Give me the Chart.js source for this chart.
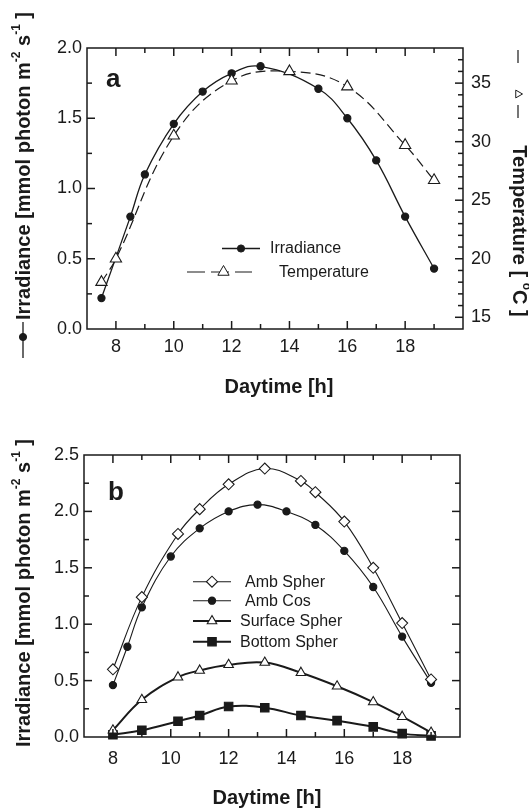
<!DOCTYPE html>
<html>
<head>
<meta charset="utf-8">
<script src="https://cdn.jsdelivr.net/npm/chart.js@4.4.1/dist/chart.umd.min.js"></script>
<style>
  html, body { margin: 0; padding: 0; background: #fff; }
  #wrap { position: relative; width: 529px; height: 810px; }
  canvas { position: absolute; left: 0; }
  #ca { top: 0; }
  #cb { top: 405px; }
</style>
</head>
<body>
<div id="wrap">
  <canvas id="ca" width="529" height="405"></canvas>
  <canvas id="cb" width="529" height="405"></canvas>
</div>
<script>
// panel a: irradiance and air temperature over the day
const irrHours = [7.5, 8.5, 9, 10, 11, 12, 13, 15, 16, 17, 18, 19];
const irrValues = [0.22, 0.80, 1.10, 1.46, 1.69, 1.82, 1.87, 1.71, 1.50, 1.20, 0.80, 0.43];
const tempHours = [7.5, 8, 10, 12, 14, 16, 18, 19];
const tempValues = [18.0, 20.0, 30.5, 35.2, 36.0, 34.7, 29.7, 26.7];

// panel b: four sensors
const ambSpherHours = [8, 9, 10.25, 11, 12, 13.25, 14.5, 15, 16, 17, 18, 19];
const ambSpherValues = [0.60, 1.24, 1.80, 2.02, 2.24, 2.38, 2.27, 2.17, 1.91, 1.50, 1.01, 0.51];
const ambCosHours = [8, 8.5, 9, 10, 11, 12, 13, 14, 15, 16, 17, 18, 19];
const ambCosValues = [0.46, 0.80, 1.15, 1.60, 1.85, 2.00, 2.06, 2.00, 1.88, 1.65, 1.33, 0.89, 0.48];
const spherHours = [8, 9, 10.25, 11, 12, 13.25, 14.5, 15.75, 17, 18, 19];
const surfaceValues = [0.06, 0.33, 0.53, 0.59, 0.64, 0.66, 0.57, 0.45, 0.31, 0.18, 0.04];
const bottomValues = [0.02, 0.06, 0.14, 0.19, 0.27, 0.26, 0.19, 0.145, 0.09, 0.03, 0.01];

// tick labels
const hourTicks = [8, 10, 12, 14, 16, 18];
const irrTicksA = [0, 0.5, 1, 1.5, 2];
const irrTicksB = [0, 0.5, 1, 1.5, 2, 2.5];
const tempTicks = [15, 20, 25, 30, 35];

const F = "'Liberation Sans', Arial, Helvetica, sans-serif";
const INK = '#1a1a1a';

function pts(xs, ys) {
  return xs.map(function (x, i) { return { x: x, y: ys[i] }; });
}
function has(list, v) {
  for (let i = 0; i < list.length; i++) if (Math.abs(list[i] - v) < 1e-6) return true;
  return false;
}

// axis titles with superscripts, centred on (x, y)
function drawRuns(ctx, runs, x, y, angle, size) {
  const big = 'bold ' + size + 'px ' + F;
  const small = 'bold ' + Math.round(size * 0.62) + 'px ' + F;
  ctx.save();
  ctx.translate(x, y);
  ctx.rotate(angle);
  ctx.fillStyle = INK;
  ctx.textBaseline = 'middle';
  ctx.textAlign = 'left';
  let w = 0;
  runs.forEach(function (r) { ctx.font = r[1] ? small : big; w += ctx.measureText(r[0]).width; });
  let cx = -w / 2;
  runs.forEach(function (r) {
    ctx.font = r[1] ? small : big;
    ctx.fillText(r[0], cx, r[1] ? -size * 0.36 : 0);
    cx += ctx.measureText(r[0]).width;
  });
  ctx.restore();
}

function marker(ctx, style, r, x, y, fill, lw, rot) {
  ctx.save();
  ctx.fillStyle = fill;
  ctx.strokeStyle = INK;
  ctx.lineWidth = lw || 1;
  Chart.helpers.drawPoint(ctx, { pointStyle: style, radius: r, rotation: rot || 0, borderWidth: lw || 1 }, x, y);
  ctx.restore();
}

function seg(ctx, x1, y1, x2, y2, lw, dash) {
  ctx.save();
  ctx.strokeStyle = INK;
  ctx.lineWidth = lw;
  ctx.setLineDash(dash || []);
  ctx.beginPath();
  ctx.moveTo(x1, y1);
  ctx.lineTo(x2, y2);
  ctx.stroke();
  ctx.restore();
}

// box round the plot and inward tick marks (every step, long on labelled values)
function drawFrame(chart, marks) {
  const ctx = chart.ctx, a = chart.chartArea;
  ctx.save();
  ctx.strokeStyle = INK;
  ctx.lineWidth = 1.5;
  ctx.setLineDash([]);
  ctx.strokeRect(a.left, a.top, a.right - a.left, a.bottom - a.top);
  marks.forEach(function (m) {
    const sc = chart.scales[m.scale];
    const n = Math.round((sc.max - sc.min) / m.step);
    for (let i = 1; i < n; i++) {
      const v = sc.min + i * m.step;
      const len = has(m.major, v) ? 8 : 5;
      const p = sc.getPixelForValue(v);
      ctx.beginPath();
      if (m.side === 'bottom') { ctx.moveTo(p, a.bottom); ctx.lineTo(p, a.bottom - len); }
      else if (m.side === 'top') { ctx.moveTo(p, a.top); ctx.lineTo(p, a.top + len); }
      else if (m.side === 'left') { ctx.moveTo(a.left, p); ctx.lineTo(a.left + len, p); }
      else { ctx.moveTo(a.right, p); ctx.lineTo(a.right - len, p); }
      ctx.stroke();
    }
  });
  ctx.restore();
}

function framePlugin(marks, extras) {
  return {
    id: 'frame',
    afterDraw(chart) {
      drawFrame(chart, marks);
      extras(chart.ctx);
    }
  };
}

function xScale(height, pad) {
  return {
    type: 'linear', min: 7, max: 20,
    grid: { display: false, drawTicks: false },
    border: { display: false },
    ticks: {
      stepSize: 1, autoSkip: false, maxRotation: 0, padding: pad, color: INK,
      font: { family: F, size: 18 },
      callback: function (v) { return has(hourTicks, v) ? String(v) : ''; }
    },
    afterFit: function (s) { s.height = height; }
  };
}

function irrScale(max, labels, width) {
  return {
    type: 'linear', position: 'left', min: 0, max: max,
    grid: { display: false, drawTicks: false },
    border: { display: false },
    ticks: {
      stepSize: 0.25, autoSkip: false, padding: 5, color: INK,
      font: { family: F, size: 18 },
      callback: function (v) { return has(labels, v) ? v.toFixed(1) : ''; }
    },
    afterFit: function (s) { s.width = width; }
  };
}

function line(label, data, style, radius, fill, width, extra) {
  return Object.assign({
    label: label, data: data,
    borderColor: INK, borderWidth: width, tension: 0.4, fill: false, clip: false,
    pointStyle: style, pointRadius: radius, pointBackgroundColor: fill,
    pointBorderColor: INK, pointBorderWidth: 1.1
  }, extra || {});
}

const marksA = [
  { scale: 'x', side: 'bottom', step: 1, major: hourTicks },
  { scale: 'x', side: 'top', step: 1, major: hourTicks },
  { scale: 'y', side: 'left', step: 0.25, major: irrTicksA },
  { scale: 'y2', side: 'right', step: 1, major: tempTicks }
];

function extrasA(ctx) {
  ctx.save();
  ctx.fillStyle = INK;
  ctx.font = 'bold 26px ' + F;
  ctx.textBaseline = 'middle';
  ctx.fillText('a', 106, 80);
  ctx.font = '16px ' + F;
  seg(ctx, 222, 248.5, 260, 248.5, 1.3);
  marker(ctx, 'circle', 3.6, 241, 248.5, INK);
  ctx.fillStyle = INK;
  ctx.fillText('Irradiance', 270, 249);
  seg(ctx, 187, 272, 252, 272, 1.2, [18, 6]);
  marker(ctx, 'triangle', 6.5, 223.5, 272, '#fff');
  ctx.fillStyle = INK;
  ctx.fillText('Temperature', 279, 273);
  ctx.restore();
  drawRuns(ctx, [['Irradiance [mmol photon m'], ['-2', 1], [' s'], ['-1', 1], [' ]']], 24, 166, -Math.PI / 2, 20);
  drawRuns(ctx, [['Temperature [ '], ['o', 1], ['C ]']], 519, 231, Math.PI / 2, 20);
  drawRuns(ctx, [['Daytime [h]']], 279, 387, 0, 20);
  seg(ctx, 23, 322, 23, 358, 1.3);
  marker(ctx, 'circle', 3.6, 23, 337, INK);
  seg(ctx, 518, 50, 518, 63, 1.2);
  marker(ctx, 'triangle', 4.5, 518, 94, '#fff', 1, 90);
  seg(ctx, 518, 105, 518, 118, 1.2);
}

const marksB = [
  { scale: 'x', side: 'bottom', step: 1, major: hourTicks },
  { scale: 'x', side: 'top', step: 1, major: hourTicks },
  { scale: 'y', side: 'left', step: 0.25, major: irrTicksB },
  { scale: 'y', side: 'right', step: 0.25, major: irrTicksB }
];

function extrasB(ctx) {
  ctx.save();
  ctx.fillStyle = INK;
  ctx.font = 'bold 26px ' + F;
  ctx.textBaseline = 'middle';
  ctx.fillText('b', 108, 88);
  ctx.font = '16px ' + F;
  const rows = [
    ['Amb Spher', 'rectRot', 5.5, '#fff', 1.1, 176.7, 245],
    ['Amb Cos', 'circle', 3.6, INK, 1.1, 195.7, 245],
    ['Surface Spher', 'triangle', 5.5, '#fff', 2, 216, 240],
    ['Bottom Spher', 'rect', 6, INK, 2, 236.7, 240]
  ];
  rows.forEach(function (r) {
    seg(ctx, 193, r[5], 231, r[5], r[4]);
    marker(ctx, r[1], r[2], 212, r[5], r[3], 1.1);
    ctx.fillStyle = INK;
    ctx.fillText(r[0], r[6], r[5] + 1);
  });
  ctx.restore();
  drawRuns(ctx, [['Irradiance [mmol photon m'], ['-2', 1], [' s'], ['-1', 1], [' ]']], 24, 188, -Math.PI / 2, 20);
  drawRuns(ctx, [['Daytime [h]']], 267, 393, 0, 20);
}

new Chart(document.getElementById('ca'), {
  type: 'line',
  data: {
    datasets: [
      line('Temperature', pts(tempHours, tempValues), 'triangle', 6.5, '#fff', 1.2,
        { yAxisID: 'y2', borderDash: [10, 5], order: 0 }),
      line('Irradiance', pts(irrHours, irrValues), 'circle', 3.6, INK, 1.3,
        { yAxisID: 'y', order: 1 })
    ]
  },
  options: {
    responsive: false, animation: false, devicePixelRatio: 1,
    layout: { padding: { top: 48, left: 0, right: 0, bottom: 0 } },
    plugins: { legend: { display: false }, tooltip: { enabled: false } },
    scales: {
      x: xScale(76, 7),
      y: irrScale(2, irrTicksA, 87),
      y2: {
        type: 'linear', position: 'right', min: 14, max: 38,
        grid: { display: false, drawTicks: false },
        border: { display: false },
        ticks: {
          stepSize: 1, autoSkip: false, padding: 8, color: INK,
          font: { family: F, size: 18 },
          callback: function (v) { return has(tempTicks, v) ? String(v) : ''; }
        },
        afterFit: function (s) { s.width = 66; }
      }
    }
  },
  plugins: [framePlugin(marksA, extrasA)]
});

new Chart(document.getElementById('cb'), {
  type: 'line',
  data: {
    datasets: [
      line('Amb Spher', pts(ambSpherHours, ambSpherValues), 'rectRot', 5.5, '#fff', 1.1, { order: 0 }),
      line('Amb Cos', pts(ambCosHours, ambCosValues), 'circle', 3.6, INK, 1.1, { order: 1 }),
      line('Surface Spher', pts(spherHours, surfaceValues), 'triangle', 5.5, '#fff', 2, { order: 2 }),
      line('Bottom Spher', pts(spherHours, bottomValues), 'rect', 6, INK, 2, { order: 3 })
    ]
  },
  options: {
    responsive: false, animation: false, devicePixelRatio: 1,
    layout: { padding: { top: 50, left: 0, right: 69, bottom: 0 } },
    plugins: { legend: { display: false }, tooltip: { enabled: false } },
    scales: {
      x: xScale(73, 11),
      y: irrScale(2.5, irrTicksB, 84)
    }
  },
  plugins: [framePlugin(marksB, extrasB)]
});
</script>
</body>
</html>
